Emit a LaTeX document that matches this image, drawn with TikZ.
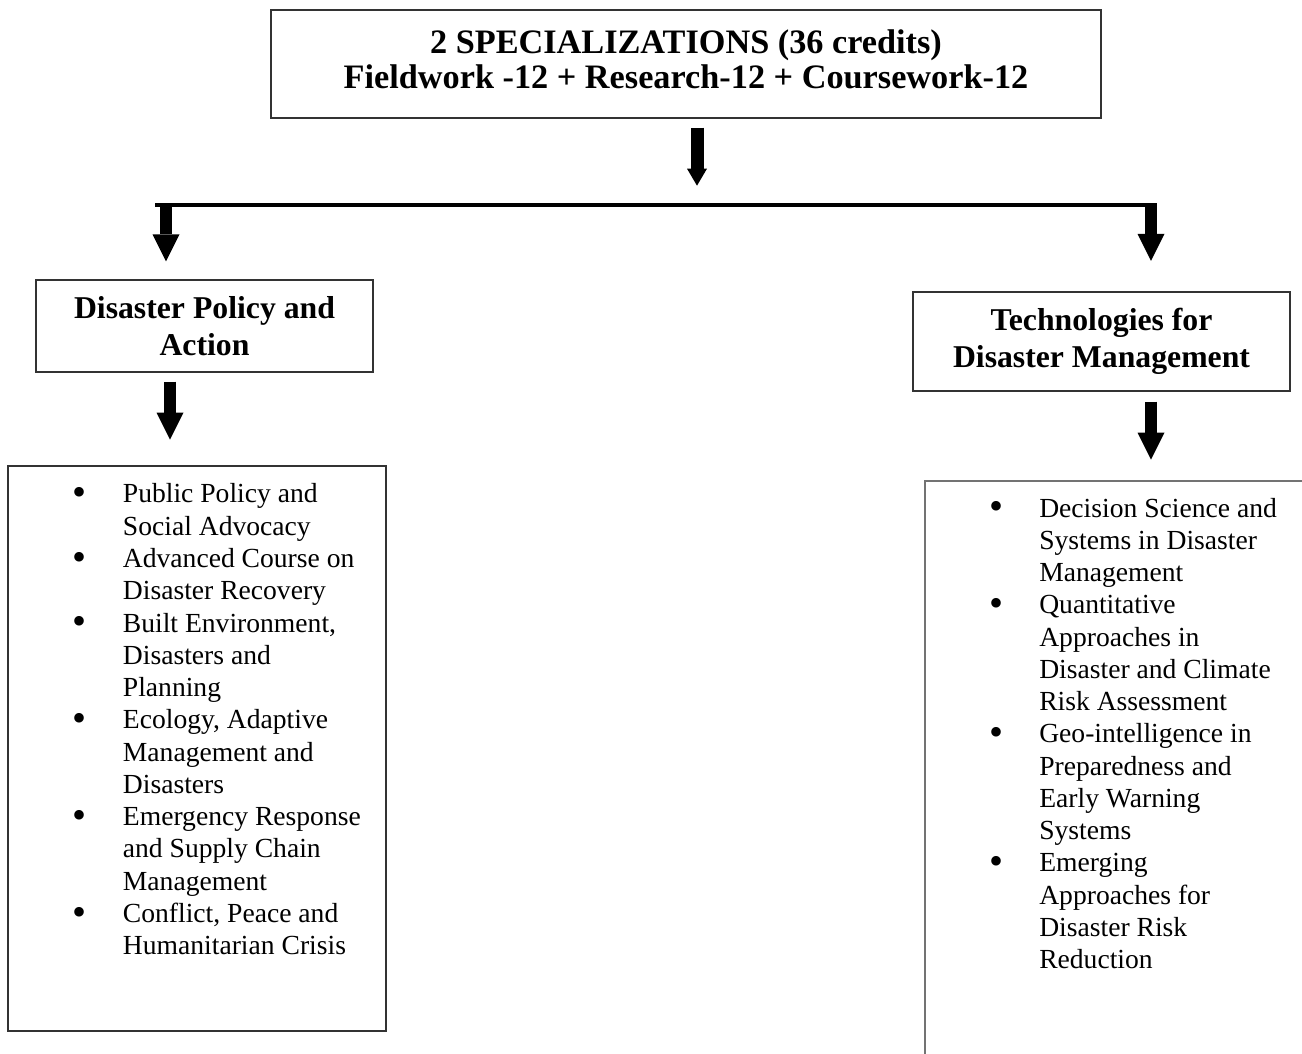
\documentclass[tikz,border=0pt]{standalone}
\usepackage{fontspec}
\setmainfont{Liberation Serif}
\usetikzlibrary{arrows.meta}
\newcommand{\bigbul}{\raisebox{-2pt}{\scalebox{1.45}{\textbullet}}}
\begin{document}
\begin{tikzpicture}[x=0.75pt,y=-0.75pt,
  boxline/.style={draw=black!80, line width=1pt, inner sep=0pt},
  titlebox/.style={boxline, align=center, font=\fontsize{25.7pt}{26.7pt}\selectfont\bfseries},
  specbox/.style={boxline, align=center, font=\fontsize{23.8pt}{27.5pt}\selectfont\bfseries},
  listtext/.style={inner sep=0pt, anchor=north west, font=\fontsize{20.7pt}{24.2pt}\selectfont},
  bigarrow/.style={line width=9pt, -{Triangle[width=20.25pt,length=20.25pt,line width=0pt 0]}},
  smallarrow/.style={line width=9.75pt, -{Triangle[width=15pt,length=12.75pt,line width=0pt 0]}},
  bus/.style={line width=3pt}]
\useasboundingbox (0,0) rectangle (1302,1053);
\fill[white] (0,0) rectangle (1302,1053);

% top box
\node[titlebox, minimum width=622.5pt, minimum height=81pt] (top) at (686,64)
  {\strut 2 SPECIALIZATIONS (36 credits)\\\strut Fieldwork -12 + Research-12 + Coursework-12};

% specialization boxes
\node[specbox, minimum width=252.75pt, minimum height=69pt] (lbox) at (204.5,326)
  {Disaster Policy and\\Action};
\node[specbox, minimum width=282.75pt, minimum height=74.25pt] (rbox) at (1101.5,341.5)
  {Technologies for\\Disaster Management};

% list boxes
\node[boxline, minimum width=283.5pt, minimum height=423.75pt] (llistbox) at (197,748.5) {};
\draw[draw=black!55, line width=1pt] (1303,481) -- (925,481) -- (925,1054);

% lists
\node[listtext] (llist) at (72,480.1) {%
\begin{tabular}{@{}p{38pt}@{}l@{}}
\bigbul & Public Policy and\\
 & Social Advocacy\\
\bigbul & Advanced Course on\\
 & Disaster Recovery\\
\bigbul & Built Environment,\\
 & Disasters and\\
 & Planning\\
\bigbul & Ecology, Adaptive\\
 & Management and\\
 & Disasters\\
\bigbul & Emergency Response\\
 & and Supply Chain\\
 & Management\\
\bigbul & Conflict, Peace and\\
 & Humanitarian Crisis
\end{tabular}};

\node[listtext] (rlist) at (989,494.2) {%
\begin{tabular}{@{}p{37.5pt}@{}l@{}}
\bigbul & Decision Science and\\
 & Systems in Disaster\\
 & Management\\
\bigbul & Quantitative\\
 & Approaches in\\
 & Disaster and Climate\\
 & Risk Assessment\\
\bigbul & Geo-intelligence in\\
 & Preparedness and\\
 & Early Warning\\
 & Systems\\
\bigbul & Emerging\\
 & Approaches for\\
 & Disaster Risk\\
 & Reduction
\end{tabular}};

% connectors
\coordinate (busL) at (155,205);
\coordinate (busR) at (1157,205);
\coordinate (lj) at (166,203);
\coordinate (rj) at (1151,203);

\draw[smallarrow] ([shift={(11,9)}]top.south) -- ([shift={(11,67)}]top.south);
\draw[bus] (busL) -- (busR);
\draw[bigarrow] (lj) -- ([shift={(-38.5,-18)}]lbox.north);
\draw[bigarrow] (rj) -- ([shift={(49.5,-30.5)}]rbox.north);
\draw[bigarrow] ([shift={(-34.5,9)}]lbox.south) -- ([shift={(-34.5,67)}]lbox.south);
\draw[bigarrow] ([shift={(49.5,10)}]rbox.south) -- ([shift={(49.5,68)}]rbox.south);
\end{tikzpicture}
\end{document}
